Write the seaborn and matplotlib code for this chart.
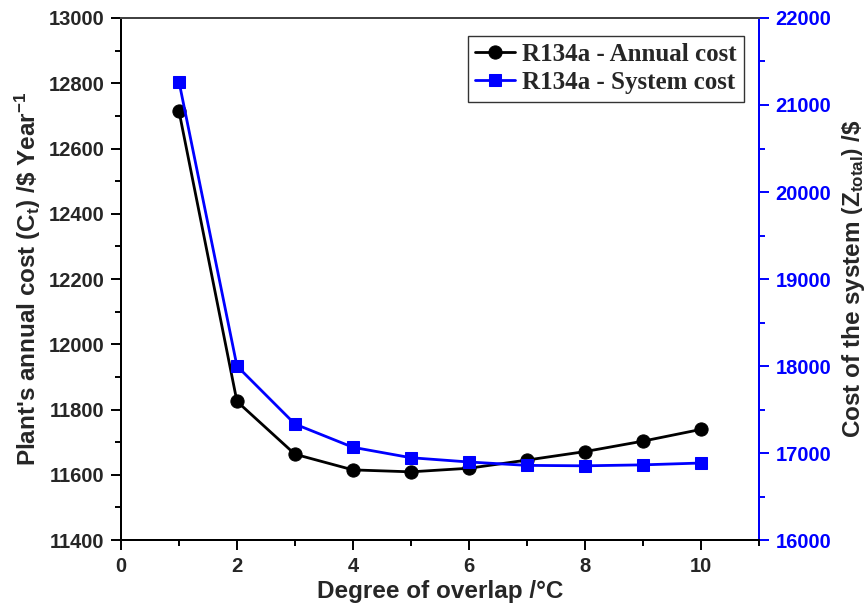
import matplotlib
matplotlib.use("Agg")
import matplotlib.pyplot as plt
import seaborn as sns
import pandas as pd
from matplotlib.ticker import MultipleLocator

sns.set_style("white")
plt.rcParams['font.family'] = ['Liberation Sans', 'DejaVu Sans']
plt.rcParams['mathtext.fontset'] = 'custom'
plt.rcParams['mathtext.rm'] = 'Liberation Sans:bold'
plt.rcParams['mathtext.it'] = 'Liberation Sans:bold'
plt.rcParams['mathtext.bf'] = 'Liberation Sans:bold'
plt.rcParams['xtick.bottom'] = True
plt.rcParams['xtick.top'] = False
plt.rcParams['ytick.left'] = True

overlap = [1, 2, 3, 4, 5, 6, 7, 8, 9, 10]
annual_cost = [12715, 11825, 11663, 11615, 11609, 11620, 11645, 11671, 11703, 11739]
system_cost = [21270, 18000, 17333, 17066, 16946, 16897, 16858, 16853, 16864, 16885]

df = pd.DataFrame({"overlap": overlap, "annual": annual_cost, "system": system_cost})

fig = plt.figure(figsize=(8.66, 6.12), dpi=100)
ax = fig.add_axes([0.1397, 0.1176, 0.7365, 0.853])
ax2 = ax.twinx()

sns.lineplot(data=df, x="overlap", y="annual", ax=ax, color="black", marker="o",
             markersize=9.5, linewidth=2, markeredgecolor="black", label="R134a - Annual cost", legend=False)
sns.lineplot(data=df, x="overlap", y="system", ax=ax2, color="#0000ff", marker="s",
             markersize=8.5, linewidth=2, markeredgecolor="#0000ff", label="R134a - System cost", legend=False)

ax.set_xlim(0, 11)
ax.set_ylim(11400, 13000)
ax2.set_ylim(16000, 22000)

ax.xaxis.set_major_locator(MultipleLocator(2))
ax.xaxis.set_minor_locator(MultipleLocator(1))
ax.yaxis.set_major_locator(MultipleLocator(200))
ax.yaxis.set_minor_locator(MultipleLocator(100))
ax2.yaxis.set_major_locator(MultipleLocator(1000))
ax2.yaxis.set_minor_locator(MultipleLocator(500))

for a in (ax, ax2):
    for s in a.spines.values():
        s.set_linewidth(1.4)
        s.set_color("black")
ax2.spines["right"].set_color("#0000ff")
ax2.spines["top"].set_color("#444444")

ax.set_xlabel("Degree of overlap /°C", fontsize=17.5, fontweight="bold", labelpad=3)
ax.set_ylabel(r"Plant's annual cost (C$_t$) /\$ Year$^{-1}$", fontsize=17.5, fontweight="bold", labelpad=4)
ax2.set_ylabel(r"Cost of the system $\left(\mathrm{Z}_{\mathrm{total}}\right)$ /\$", fontsize=17.5,
               fontweight="bold", labelpad=6)

h1, l1 = ax.get_legend_handles_labels()
h2, l2 = ax2.get_legend_handles_labels()
leg = ax2.legend(h1 + h2, l1 + l2, loc="upper right", bbox_to_anchor=(0.9765, 0.966),
                 prop={"family": "Liberation Serif", "weight": "bold", "size": 18},
                 frameon=True, fancybox=False, edgecolor="black", handlelength=1.6,
                 handletextpad=0.25, borderpad=0.3, labelspacing=0.2, borderaxespad=0)
leg.get_frame().set_linewidth(1.0)

# ticks: bottom/left/right outward
ax.tick_params(axis="both", which="major", direction="out", length=7.5, width=1.4,
               labelsize=14.5, pad=4.5, color="black")
ax.tick_params(axis="both", which="minor", direction="out", length=4, width=1.4, color="black")
ax.tick_params(axis="x", which="both", bottom=True, top=False)
ax.tick_params(axis="y", which="both", left=True, right=False)
ax2.tick_params(axis="y", which="major", direction="out", length=7.5, width=1.4,
                colors="#0000ff", labelsize=14.5, pad=4.5, right=True, left=False)
ax2.tick_params(axis="y", which="minor", direction="out", length=4, width=1.4,
                colors="#0000ff", right=True, left=False)

for lbl in ax.get_xticklabels() + ax.get_yticklabels() + ax2.get_yticklabels():
    lbl.set_fontweight("bold")
for lbl in ax2.get_yticklabels():
    lbl.set_color("#0000ff")

fig.savefig("out.png", dpi=100)
